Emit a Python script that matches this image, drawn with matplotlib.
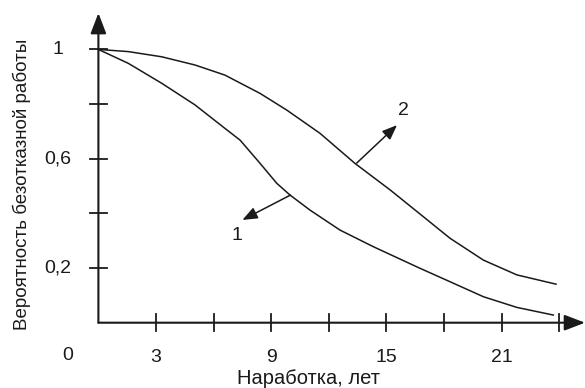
import matplotlib.pyplot as plt

# ---- data ----
# curve 1 (lower)
t1 = [0, 1.56, 3.30, 5.03, 6.59, 7.38, 8.42, 9.29, 9.98, 11.02, 12.58,
      14.32, 16.75, 18.31, 20.05, 21.79, 23.69]
p1 = [1.0, 0.949, 0.876, 0.797, 0.711, 0.668, 0.583, 0.510, 0.467, 0.412, 0.339,
      0.278, 0.199, 0.150, 0.095, 0.056, 0.028]
# curve 2 (upper)
t2 = [0, 1.56, 3.30, 5.03, 6.59, 8.42, 9.81, 11.54, 13.36, 15.19, 16.92,
      18.31, 20.05, 21.79, 23.83]
p2 = [1.0, 0.992, 0.973, 0.943, 0.906, 0.839, 0.778, 0.693, 0.583, 0.486, 0.388,
      0.309, 0.229, 0.175, 0.141]

x_ticks = [3, 6, 9, 12, 15, 18, 21, 24]
x_labels = {3: '3', 9: '9', 15: '15', 21: '21'}
y_ticks = [0.2, 0.4, 0.6, 0.8, 1.0]
y_labels = {0.2: '0,2', 0.6: '0,6', 1.0: '1'}

# callouts: (curve point, arrow tip, label position, label)
callouts = [((10.0, 0.467), (7.5, 0.376), (7.22, 0.32), '1'),
            ((13.45, 0.584), (15.55, 0.723), (15.86, 0.778), '2')]

plt.rcParams['font.family'] = ['Liberation Sans', 'DejaVu Sans']

fig = plt.figure(figsize=(5.85, 3.88), dpi=100)
ax = fig.add_axes([0.1682, 0.1683, 0.8318, 0.798])
xmax, ymax = 25.34, 1.133
ax.set_xlim(0, xmax)
ax.set_ylim(0, ymax)
ax.axis('off')

col = '#1a1a1a'
fs = 14

# axes with arrows
for end in [(xmax, 0), (0, ymax)]:
    ax.annotate('', xy=end, xytext=(0, 0), annotation_clip=False,
                arrowprops=dict(arrowstyle='-|>,head_length=1.25,head_width=0.48',
                                mutation_scale=10, lw=1.5, color=col,
                                shrinkA=0, shrinkB=0))

# tick marks
tx = 8.5 / 273.3
ty = 8.5 / 19.2
for x in x_ticks:
    ax.plot([x, x], [-tx, tx], color=col, lw=1.3, clip_on=False)
    if x in x_labels:
        ax.text(x, -0.127, x_labels[x], ha='center', va='center', fontsize=fs, color=col)
for y in y_ticks:
    ax.plot([-ty, ty], [y, y], color=col, lw=1.3, clip_on=False)
    if y in y_labels:
        ax.text(-2.12, y, y_labels[y], ha='center', va='center', fontsize=fs, color=col)
ax.text(-1.58, -0.12, '0', ha='center', va='center', fontsize=fs, color=col)

# curves
ax.plot(t1, p1, color=col, lw=1.1, clip_on=False)
ax.plot(t2, p2, color=col, lw=1.1, clip_on=False)

for (x0, y0), (x1, y1), (lx, ly), lab in callouts:
    ax.annotate('', xy=(x1, y1), xytext=(x0, y0),
                arrowprops=dict(arrowstyle='-|>,head_length=1.0,head_width=0.4',
                                mutation_scale=9, lw=1.1, color=col, shrinkA=0, shrinkB=0))
    ax.text(lx, ly, lab, ha='center', va='center', fontsize=fs, color=col)

ax.text(10.93, -0.206, 'Наработка, лет', ha='center', va='center', fontsize=14.5, color=col)
ax.text(-3.98, 0.507, 'Вероятность безотказной работы', ha='center', va='center',
        rotation=90, fontsize=13.5, color=col)

fig.savefig('out.png', dpi=100)
